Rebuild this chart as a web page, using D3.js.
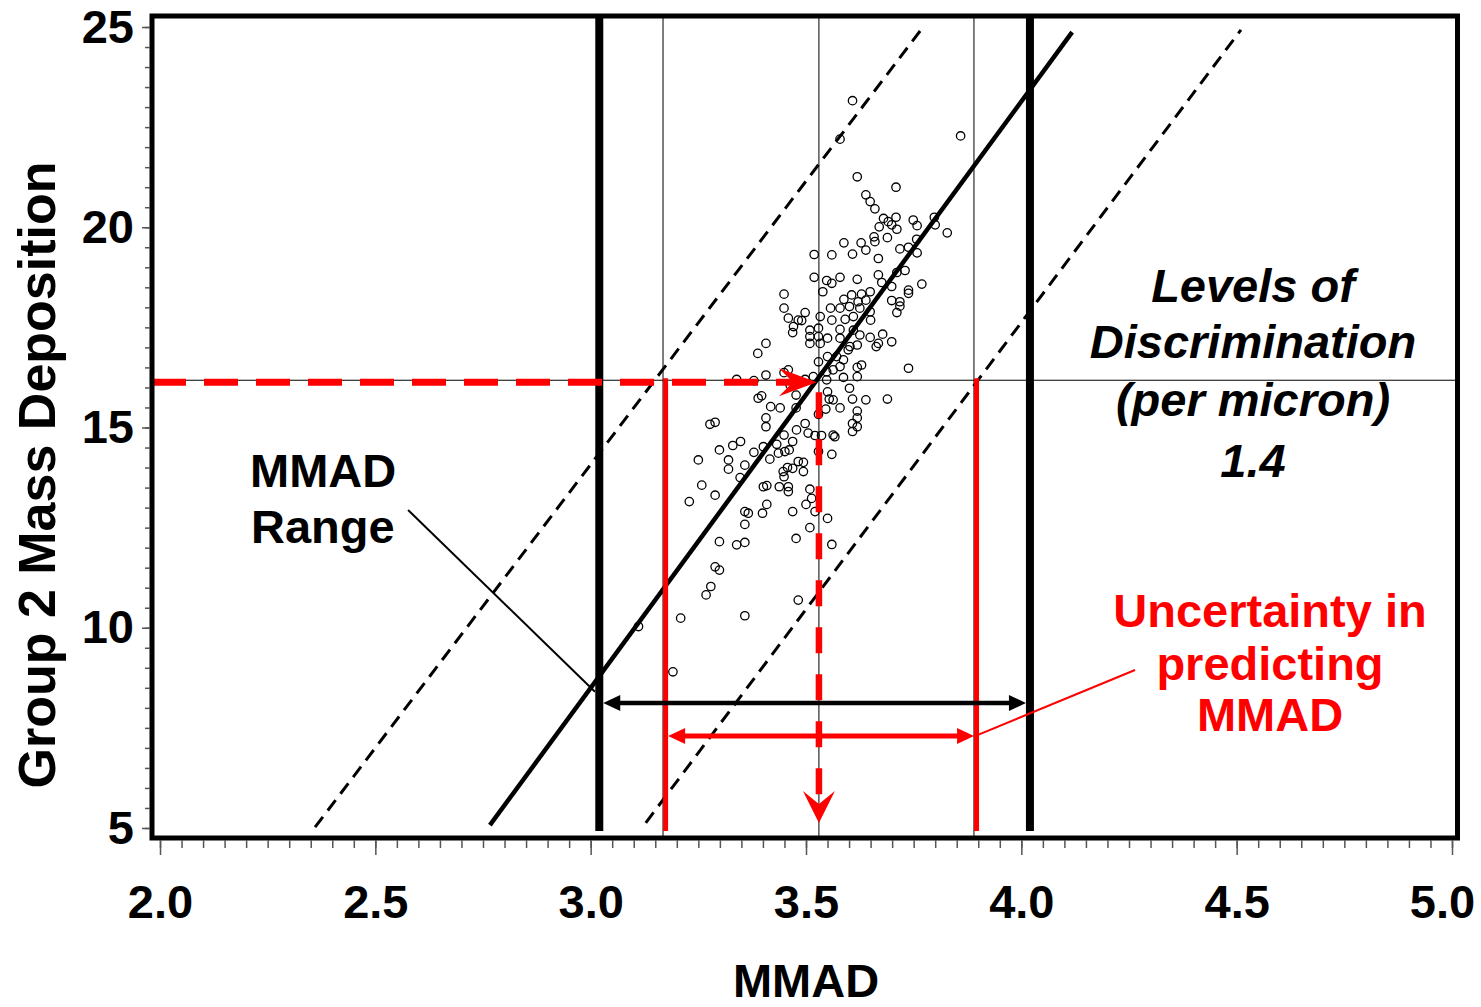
<!DOCTYPE html>
<html>
<head>
<meta charset="utf-8">
<script src="https://cdn.jsdelivr.net/npm/d3@7"></script>
<style>
  body { margin: 0; background: #fff; }
  text { font-family: "Liberation Sans", Arial, Helvetica, sans-serif; font-weight: bold; }
</style>
</head>
<body>
<div class="chart"></div>
<script>
// axis ticks
var xTicks = [2.0, 2.5, 3.0, 3.5, 4.0, 4.5, 5.0];
var yTicks = [5, 10, 15, 20, 25];

// measured MMAD vs group 2 mass deposition
var measurements = [
  [3.608, 23.16], [3.579, 22.20], [3.859, 22.28], [3.619, 21.26], [3.709, 21.00],
  [3.639, 20.81], [3.649, 20.64], [3.660, 20.46], [3.680, 20.22], [3.691, 20.14],
  [3.709, 20.25], [3.699, 20.06], [3.711, 19.95], [3.670, 20.01], [3.749, 20.18],
  [3.758, 20.04], [3.798, 20.25], [3.800, 20.06], [3.828, 19.86], [3.658, 19.76],
  [3.660, 19.64], [3.689, 19.74], [3.588, 19.61], [3.628, 19.61], [3.639, 19.43],
  [3.608, 19.33], [3.560, 19.31], [3.519, 19.32], [3.668, 19.22], [3.718, 19.46],
  [3.738, 19.50], [3.757, 19.70], [3.758, 19.36], [3.519, 18.75], [3.548, 18.67],
  [3.560, 18.60], [3.579, 18.75], [3.619, 18.70], [3.668, 18.81], [3.676, 18.62],
  [3.711, 18.87], [3.730, 18.92], [3.699, 18.52], [3.769, 18.58], [3.738, 18.43],
  [3.738, 18.35], [3.539, 18.39], [3.649, 18.39], [3.606, 18.31], [3.629, 18.33],
  [3.588, 18.20], [3.621, 18.14], [3.639, 18.18], [3.699, 18.17], [3.718, 18.14],
  [3.718, 18.03], [3.711, 17.87], [3.557, 17.98], [3.579, 17.98], [3.601, 18.02],
  [3.625, 17.98], [3.649, 17.89], [3.650, 17.68], [3.610, 17.77], [3.591, 17.70],
  [3.560, 17.68], [3.533, 17.77], [3.498, 17.87], [3.490, 17.67], [3.509, 17.43],
  [3.509, 17.27], [3.529, 17.48], [3.529, 17.27], [3.550, 17.23], [3.579, 17.45],
  [3.579, 17.23], [3.610, 17.43], [3.625, 17.31], [3.649, 17.25], [3.678, 17.33],
  [3.699, 17.14], [3.668, 17.10], [3.663, 17.02], [3.602, 17.02], [3.619, 17.06],
  [3.598, 16.94], [3.533, 17.10], [3.509, 17.10], [3.529, 16.64], [3.550, 16.77],
  [3.571, 16.77], [3.587, 16.69], [3.579, 16.52], [3.563, 16.44], [3.548, 16.39],
  [3.619, 16.50], [3.629, 16.56], [3.738, 16.48], [3.619, 16.27], [3.587, 16.25],
  [3.517, 16.27], [3.498, 16.20], [3.548, 16.19], [3.449, 18.33], [3.449, 17.98],
  [3.459, 17.73], [3.471, 17.52], [3.469, 17.37], [3.482, 17.68], [3.407, 17.10],
  [3.388, 16.85], [3.407, 16.31], [3.459, 16.44], [3.449, 16.37], [3.339, 16.20],
  [3.379, 16.17], [3.389, 15.73], [3.397, 15.79], [3.418, 15.52], [3.440, 15.49],
  [3.407, 15.24], [3.407, 15.02], [3.477, 15.49], [3.478, 14.94], [3.449, 14.81],
  [3.469, 14.65], [3.432, 14.58], [3.401, 14.52], [3.379, 14.38], [3.416, 14.21],
  [3.436, 14.36], [3.451, 14.40], [3.461, 14.44], [3.348, 14.65], [3.330, 14.55],
  [3.299, 14.44], [3.277, 15.08], [3.289, 15.13], [3.250, 14.19], [3.320, 14.19],
  [3.320, 13.96], [3.358, 14.06], [3.347, 13.75], [3.447, 13.90], [3.457, 14.00],
  [3.449, 13.77], [3.469, 13.98], [3.482, 14.15], [3.401, 13.52], [3.409, 13.55],
  [3.438, 13.52], [3.459, 13.52], [3.459, 13.40], [3.258, 13.56], [3.289, 13.31],
  [3.229, 13.15], [3.358, 12.90], [3.366, 12.86], [3.399, 12.86], [3.409, 13.08],
  [3.358, 12.58], [3.469, 12.90], [3.477, 12.23], [3.299, 12.15], [3.339, 12.07],
  [3.358, 12.13], [3.289, 11.52], [3.299, 11.44], [3.279, 11.03], [3.268, 10.82],
  [3.209, 10.24], [3.358, 10.30], [3.482, 10.69], [3.111, 10.03], [3.191, 8.90],
  [3.601, 15.98], [3.608, 15.71], [3.639, 15.69], [3.689, 15.71], [3.554, 15.71],
  [3.563, 15.69], [3.579, 15.49], [3.546, 15.46], [3.550, 15.89], [3.529, 15.33],
  [3.619, 15.41], [3.619, 15.24], [3.608, 15.10], [3.619, 15.02], [3.608, 14.90],
  [3.498, 15.10], [3.505, 14.86], [3.521, 14.80], [3.536, 14.80], [3.563, 14.81],
  [3.567, 14.77], [3.529, 14.40], [3.560, 14.33], [3.494, 14.13], [3.494, 13.90],
  [3.509, 13.46], [3.513, 13.23], [3.500, 13.08], [3.521, 12.90], [3.550, 12.73],
  [3.509, 12.50], [3.560, 12.08], [3.477, 15.81], [3.463, 16.06]
];

// fitted line and prediction band endpoints
var fitLine = [[2.766, 5.07], [4.118, 24.87]];
var bandLeft = [[2.360, 5.02], [3.767, 24.93]];
var bandRight = [[3.128, 5.13], [4.510, 24.93]];

// reference levels
var refLinesX = [3.168, 3.530, 3.890];
var observedDeposition = 16.18;
var predictedMMAD = 3.53;
var rangeBounds = [3.02, 4.02];
var uncertaintyBounds = [3.174, 3.896];
var rangeArrowY = 8.12;
var uncertaintyArrowY = 7.30;

var svgWidth = 1481;
var svgHeight = 1007;
var frame = { left: 152, top: 16, right: 1457.5, bottom: 838 };

var svg = d3.select(".chart")
  .append("svg")
  .attr("width", svgWidth)
  .attr("height", svgHeight)
  .style("display", "block");

var x = d3.scaleLinear().domain([2, 5]).range([160, 1452]);
var y = d3.scaleLinear().domain([5, 25]).range([828, 27]);

var line = d3.line().x(d => x(d[0])).y(d => y(d[1]));

// thin reference lines
svg.selectAll(".refx")
  .data(refLinesX)
  .enter()
  .append("line")
  .attr("x1", d => x(d))
  .attr("x2", d => x(d))
  .attr("y1", frame.top)
  .attr("y2", frame.bottom)
  .attr("stroke", "#000")
  .attr("stroke-width", 1);

svg.append("line")
  .attr("x1", frame.left)
  .attr("x2", frame.right)
  .attr("y1", y(observedDeposition))
  .attr("y2", y(observedDeposition))
  .attr("stroke", "#000")
  .attr("stroke-width", 1);

// thick MMAD range bounds
svg.selectAll(".range")
  .data(rangeBounds)
  .enter()
  .append("line")
  .attr("x1", d => x(d))
  .attr("x2", d => x(d))
  .attr("y1", frame.top)
  .attr("y2", y(5) + 3)
  .attr("stroke", "#000")
  .attr("stroke-width", 8);

// prediction band
[bandLeft, bandRight].forEach(function(b) {
  svg.append("path")
    .attr("d", line(b))
    .attr("fill", "none")
    .attr("stroke", "#000")
    .attr("stroke-width", 3)
    .attr("stroke-dasharray", "13,8");
});

// fit line
svg.append("path")
  .attr("d", line(fitLine))
  .attr("fill", "none")
  .attr("stroke", "#000")
  .attr("stroke-width", 4.5);

// points
svg.append("g")
  .selectAll("circle")
  .data(measurements)
  .enter()
  .append("circle")
  .attr("cx", d => x(d[0]))
  .attr("cy", d => y(d[1]))
  .attr("r", 4.2)
  .attr("fill", "none")
  .attr("stroke", "#000")
  .attr("stroke-width", 1.3);

// arrow head drawn with its tip at (tx, ty)
function arrowHead(tx, ty, angle, len, half, notch, color) {
  svg.append("path")
    .attr("d", `M0,0 L${-len},${-half} L${-len + notch},0 L${-len},${half} Z`)
    .attr("transform", `translate(${tx},${ty}) rotate(${angle})`)
    .attr("fill", color);
}

var red = "#ff0000";

// uncertainty bounds
svg.selectAll(".unc")
  .data(uncertaintyBounds)
  .enter()
  .append("line")
  .attr("x1", d => x(d))
  .attr("x2", d => x(d))
  .attr("y1", y(observedDeposition) - 2)
  .attr("y2", y(5) + 3)
  .attr("stroke", red)
  .attr("stroke-width", 5);

// dashed red arrows: observed deposition -> fit -> predicted MMAD
var tipX = x(predictedMMAD) - 2;
svg.append("line")
  .attr("x1", frame.left)
  .attr("x2", tipX - 19)
  .attr("y1", y(observedDeposition) + 2)
  .attr("y2", y(observedDeposition) + 2)
  .attr("stroke", red)
  .attr("stroke-width", 7)
  .attr("stroke-dasharray", "34,18");
arrowHead(tipX, y(observedDeposition) + 2, 0, 38, 14, 14, red);

svg.append("line")
  .attr("x1", x(predictedMMAD))
  .attr("x2", x(predictedMMAD))
  .attr("y1", y(observedDeposition) + 12)
  .attr("y2", y(5) - 20)
  .attr("stroke", red)
  .attr("stroke-width", 6.5)
  .attr("stroke-dasharray", "26,21");
arrowHead(x(predictedMMAD), y(5) - 5, 90, 32, 16, 13, red);

// double arrows
function doubleArrow(x1, x2, yy, color, width) {
  svg.append("line")
    .attr("x1", x1 + 10)
    .attr("x2", x2 - 10)
    .attr("y1", yy)
    .attr("y2", yy)
    .attr("stroke", color)
    .attr("stroke-width", width);
  arrowHead(x1, yy, 180, 17, 8, 0, color);
  arrowHead(x2, yy, 0, 17, 8, 0, color);
}
doubleArrow(x(rangeBounds[0]) + 4, x(rangeBounds[1]) - 4, y(rangeArrowY), "#000", 4.5);
doubleArrow(x(uncertaintyBounds[0]) + 2.5, x(uncertaintyBounds[1]) - 2.5, y(uncertaintyArrowY), red, 5);

// leader lines
svg.append("line")
  .attr("x1", x(2.576)).attr("y1", y(12.94))
  .attr("x2", x(3.010)).attr("y2", y(8.40))
  .attr("stroke", "#000")
  .attr("stroke-width", 2);

svg.append("line")
  .attr("x1", x(uncertaintyBounds[1]) - 1).attr("y1", y(uncertaintyArrowY))
  .attr("x2", x(4.264)).attr("y2", y(8.945))
  .attr("stroke", red)
  .attr("stroke-width", 2);

// frame
svg.append("rect")
  .attr("x", frame.left)
  .attr("y", frame.top)
  .attr("width", frame.right - frame.left)
  .attr("height", frame.bottom - frame.top)
  .attr("fill", "none")
  .attr("stroke", "#000")
  .attr("stroke-width", 5);

// x axis
var minorX = d3.range(2, 5.001, 0.05);
var xMinor = svg.append("g")
  .attr("transform", `translate(0, ${frame.bottom + 2})`)
  .call(d3.axisBottom(x).tickValues(minorX).tickSize(8).tickFormat(""));
var xMajor = svg.append("g")
  .attr("transform", `translate(0, ${frame.bottom + 2})`)
  .call(d3.axisBottom(x).tickValues(xTicks).tickSize(15).tickPadding(30).tickFormat(d3.format(".1f")));

// y axis
var minorY = d3.range(5, 25.001, 0.5);
var yMinor = svg.append("g")
  .attr("transform", `translate(${frame.left - 2}, 0)`)
  .call(d3.axisLeft(y).tickValues(minorY).tickSize(5).tickFormat(""));
var yMajor = svg.append("g")
  .attr("transform", `translate(${frame.left - 2}, 0)`)
  .call(d3.axisLeft(y).tickValues(yTicks).tickSize(8).tickPadding(8));

[xMinor, xMajor, yMinor, yMajor].forEach(function(a) {
  a.select(".domain").remove();
  a.selectAll("line").attr("stroke", "#555").attr("stroke-width", 1.5);
  a.selectAll("text")
    .attr("fill", "#000")
    .style("font-size", "47px")
    .style("font-family", "'Liberation Sans', Arial, sans-serif")
    .style("font-weight", "bold");
});

// keep the last x label inside the page
xMajor.selectAll("text")
  .filter(d => d === 5.0)
  .attr("dx", -10);

// axis titles
svg.append("text")
  .attr("transform", "translate(55, 475) rotate(-90)")
  .attr("text-anchor", "middle")
  .style("font-size", "52px")
  .text("Group 2 Mass Deposition");

svg.append("text")
  .attr("x", x(3.5))
  .attr("y", 997)
  .attr("text-anchor", "middle")
  .style("font-size", "47px")
  .text("MMAD");

// annotations
svg.append("text")
  .attr("x", 250)
  .attr("y", 487)
  .style("font-size", "47px")
  .text("MMAD");
svg.append("text")
  .attr("x", 251)
  .attr("y", 543)
  .style("font-size", "47px")
  .text("Range");

var levels = ["Levels of", "Discrimination", "(per micron)", "1.4"];
var levelsY = [302, 358, 416, 477];
svg.selectAll(".levels")
  .data(levels)
  .enter()
  .append("text")
  .attr("x", 1253)
  .attr("y", (d, i) => levelsY[i])
  .attr("text-anchor", "middle")
  .style("font-size", "47px")
  .style("font-style", "italic")
  .text(d => d);

var uncText = ["Uncertainty in", "predicting", "MMAD"];
var uncY = [627, 680, 731];
svg.selectAll(".unctext")
  .data(uncText)
  .enter()
  .append("text")
  .attr("x", 1270)
  .attr("y", (d, i) => uncY[i])
  .attr("text-anchor", "middle")
  .attr("fill", red)
  .style("font-size", "47px")
  .text(d => d);
</script>
</body>
</html>
